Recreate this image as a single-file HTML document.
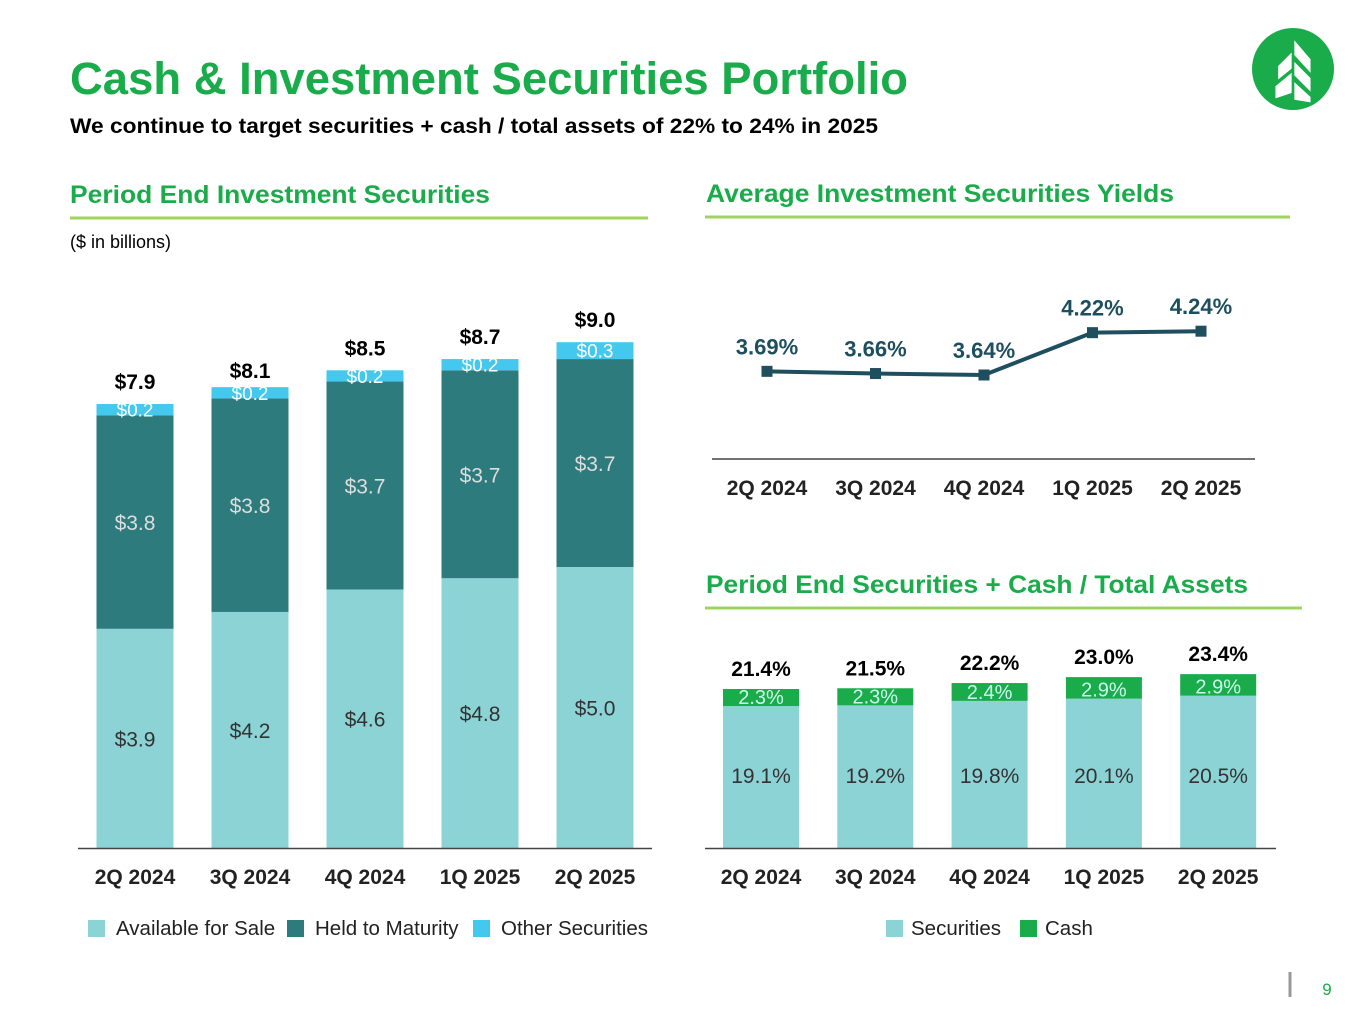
<!DOCTYPE html>
<html><head><meta charset="utf-8"><style>
body{margin:0;width:1365px;height:1024px;background:#fff;font-family:"Liberation Sans",Arial,sans-serif;overflow:hidden;position:relative}
.abs{position:absolute}
</style></head><body>
<svg class="abs" style="left:1252px;top:28px" width="82" height="82" viewBox="0 0 82 82"><circle cx="41" cy="41" r="41" fill="#1aab4b"/><g transform="translate(41 42) scale(1.35) translate(-41 -41)"><path d="M42 19 L54 33 L54 43 L42 30Z M30 38 L40 28 L40 40 L30 48Z M42 35 L54 47 L54 57 L42 45Z M28 53 L40 43 L40 58 L28 62Z M42 50 L54 61 L54 65 L42 63Z" fill="#fff"/></g></svg>
<svg class="abs" style="left:0;top:0" width="1365" height="1024" id="c">
<text x="70" y="94" font-size="45" font-weight="bold" fill="#1aab4b" textLength="838" lengthAdjust="spacingAndGlyphs">Cash &amp; Investment Securities Portfolio</text>
<text x="70" y="133" font-size="21" font-weight="bold" fill="#000" textLength="808" lengthAdjust="spacingAndGlyphs">We continue to target securities + cash / total assets of 22% to 24% in 2025</text>
<text x="70" y="203" font-size="25" font-weight="bold" fill="#1aab4b" textLength="420" lengthAdjust="spacingAndGlyphs">Period End Investment Securities</text>
<line x1="70" y1="218" x2="648" y2="218" stroke="#9fd35f" stroke-width="3"/>
<text x="70" y="248" font-size="18" fill="#000">($ in billions)</text>
<text x="706" y="202" font-size="25" font-weight="bold" fill="#1aab4b" textLength="468" lengthAdjust="spacingAndGlyphs">Average Investment Securities Yields</text>
<line x1="705" y1="217" x2="1290" y2="217" stroke="#9fd35f" stroke-width="3"/>
<text x="706" y="593" font-size="25" font-weight="bold" fill="#1aab4b" textLength="542" lengthAdjust="spacingAndGlyphs">Period End Securities + Cash / Total Assets</text>
<line x1="705" y1="608" x2="1302" y2="608" stroke="#9fd35f" stroke-width="3"/>
<line x1="1290" y1="972" x2="1290" y2="997" stroke="#999" stroke-width="3"/>
<text x="1327" y="995" font-size="17" fill="#1aab4b" text-anchor="middle">9</text>
</svg>
<script>
const quarters=["2Q 2024","3Q 2024","4Q 2024","1Q 2025","2Q 2025"];
const afs=[3.9,4.2,4.6,4.8,5.0];
const htm=[3.8,3.8,3.7,3.7,3.7];
const other=[0.2,0.2,0.2,0.2,0.3];
const totals=[7.9,8.1,8.5,8.7,9.0];
const yields=[3.69,3.66,3.64,4.22,4.24];
const securities=[19.1,19.2,19.8,20.1,20.5];
const cash=[2.3,2.3,2.4,2.9,2.9];
const ratioTotals=[21.4,21.5,22.2,23.0,23.4];
const svg=document.getElementById('c');
const NS="http://www.w3.org/2000/svg";
function mk(t,a,txt){const e=document.createElementNS(NS,t);for(const k in a)e.setAttribute(k,a[k]);if(txt!==undefined)e.textContent=txt;svg.appendChild(e);return e;}
const lx=i=>135+i*115, ly=v=>848-v*56.2;
afs.forEach((v,i)=>{
  let base=0;
  [[afs[i],'#8cd3d6','afs','#333'],[htm[i],'#2e7b7e','htm','#ddd'],[other[i],'#45c8ee','other','#fff']].forEach(([val,col,nm,tc])=>{
    const y0=ly(base),y1=ly(base+val);
    const r=mk('rect',{x:lx(i)-38.5,y:y1,width:77,height:y0-y1,fill:col});
    
    
    const ty=y1+(y0-y1)/2+(nm==='other'?7:8);
    const t=mk('text',{x:lx(i),y:ty,'font-size':nm==='other'?19:21,fill:tc,'text-anchor':'middle'},'$'+val.toFixed(1));
    
    
    base+=val;
  });
  const tt=mk('text',{x:lx(i),y:ly(totals[i])-15,'font-size':21,'font-weight':'bold',fill:'#000','text-anchor':'middle'},'$'+totals[i].toFixed(1));
  
  
  const xl=mk('text',{x:lx(i),y:884,'font-size':21,'font-weight':'bold',fill:'#222','text-anchor':'middle'},quarters[i]);
  
  
});
mk('line',{x1:78,y1:848.5,x2:652,y2:848.5,stroke:'#444','stroke-width':1.5});
[['Available for Sale','#8cd3d6',88],['Held to Maturity','#2e7b7e',287],['Other Securities','#45c8ee',473]].forEach(([n,c,x],k)=>{
  const r=mk('rect',{x:x,y:920,width:17,height:17,fill:c});
  
  
  const t=mk('text',{x:x+28,y:935,'font-size':20.5,fill:'#222'},n);
  
  
});
const yx=i=>767+i*108.5, yy=v=>375-(v-3.64)*73;
mk('polyline',{points:yields.map((v,i)=>yx(i)+','+yy(v)).join(' '),fill:'none',stroke:'#1d4f5e','stroke-width':4});
yields.forEach((v,i)=>{
  const p=mk('rect',{x:yx(i)-5.5,y:yy(v)-5.5,width:11,height:11,fill:'#1d4f5e'});
  
  
  const t=mk('text',{x:yx(i),y:yy(v)-17,'font-size':22,'font-weight':'bold',fill:'#1d4f5e','text-anchor':'middle'},v.toFixed(2)+'%');
  
  
  const xl=mk('text',{x:yx(i),y:495,'font-size':21,'font-weight':'bold',fill:'#222','text-anchor':'middle'},quarters[i]);
  
  
});
mk('line',{x1:712,y1:459,x2:1255,y2:459,stroke:'#444','stroke-width':1.5});
const rx=i=>761+i*114.3, ry=v=>848-v*7.43;
securities.forEach((v,i)=>{
  const s=mk('rect',{x:rx(i)-38,y:ry(v),width:76,height:848-ry(v),fill:'#8cd3d6'});
  
  
  const c=mk('rect',{x:rx(i)-38,y:ry(v+cash[i]),width:76,height:ry(v)-ry(v+cash[i]),fill:'#1aab4b'});
  
  
  const t1=mk('text',{x:rx(i),y:783,'font-size':21,fill:'#333','text-anchor':'middle'},v.toFixed(1)+'%');
  
  
  const t2=mk('text',{x:rx(i),y:ry(v)-2,'font-size':20,fill:'#cfe','text-anchor':'middle'},cash[i].toFixed(1)+'%');
  
  
  const t3=mk('text',{x:rx(i),y:ry(ratioTotals[i])-13,'font-size':21,'font-weight':'bold',fill:'#000','text-anchor':'middle'},ratioTotals[i].toFixed(1)+'%');
  
  
  const xl=mk('text',{x:rx(i),y:884,'font-size':21,'font-weight':'bold',fill:'#222','text-anchor':'middle'},quarters[i]);
  
  
});
mk('line',{x1:705,y1:848.5,x2:1276,y2:848.5,stroke:'#444','stroke-width':1.5});
[['Securities','#8cd3d6',886],['Cash','#1aab4b',1020]].forEach(([n,c,x],k)=>{
  const r=mk('rect',{x:x,y:920,width:17,height:17,fill:c});
  
  
  const t=mk('text',{x:x+25,y:935,'font-size':20.5,fill:'#222'},n);
  
  
});
</script>
</body></html>
